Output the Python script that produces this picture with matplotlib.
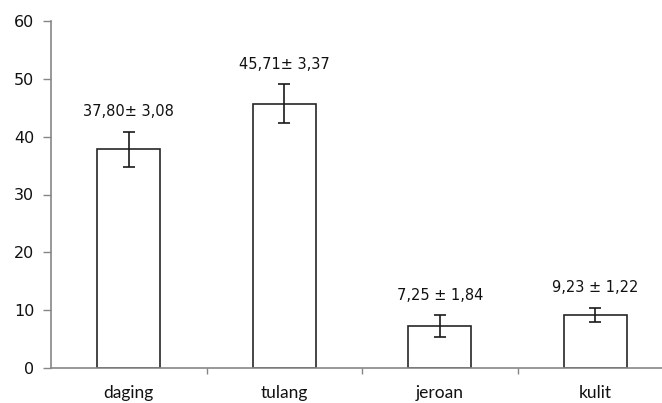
import matplotlib
matplotlib.use("Agg")
import matplotlib.pyplot as plt
import numpy as np

categories = ["daging", "tulang", "jeroan", "kulit"]
means = [37.80, 45.71, 7.25, 9.23]
errors = [3.08, 3.37, 1.84, 1.22]
labels = ["37,80\u00b1 3,08", "45,71\u00b1 3,37", "7,25 \u00b1 1,84", "9,23 \u00b1 1,22"]
yticks = [0, 10, 20, 30, 40, 50, 60]

W, H = 662, 403
fig = plt.figure(figsize=(W / 100, H / 100), dpi=100)
left, right, top, bottom = 51, 673, 21, 368
ax = fig.add_axes([left / W, (H - bottom) / H, (right - left) / W, (bottom - top) / H])

x = np.arange(len(categories))
ax.bar(x, means, width=0.405, color="white", edgecolor="#262626", linewidth=1.2, zorder=2)
ax.errorbar(x, means, yerr=errors, fmt="none", ecolor="#1a1a1a", elinewidth=1.2,
            capsize=4, capthick=1.2, zorder=3)

for xi, m, e, lab in zip(x, means, errors, labels):
    ax.annotate(lab, (xi, m + e), xytext=(0, 14.5), textcoords="offset points",
                ha="center", va="center", fontsize=10.5, color="#111111",
                family="DejaVu Sans")

ax.set_xlim(-0.5, len(categories) - 0.5)
ax.set_ylim(0, 60)
ax.set_yticks(yticks)
ax.set_yticklabels([str(t) for t in yticks], fontsize=11.5, family="DejaVu Sans", color="#111111")

ax.set_xticks(x)
ax.set_xticklabels(categories, fontsize=12.5, family="Lato", color="#111111")
ax.set_xticks(np.arange(len(categories) - 1) + 0.5, minor=True)
ax.tick_params(axis="x", which="major", length=0, pad=12)
ax.tick_params(axis="x", which="minor", length=4, color="#868686", width=1)
ax.tick_params(axis="y", length=6, color="#868686", width=1, pad=6)

for s in ["top", "right"]:
    ax.spines[s].set_visible(False)
for s in ["left", "bottom"]:
    ax.spines[s].set_color("#868686")
    ax.spines[s].set_linewidth(1.2)

fig.savefig("out.png", dpi=100)
